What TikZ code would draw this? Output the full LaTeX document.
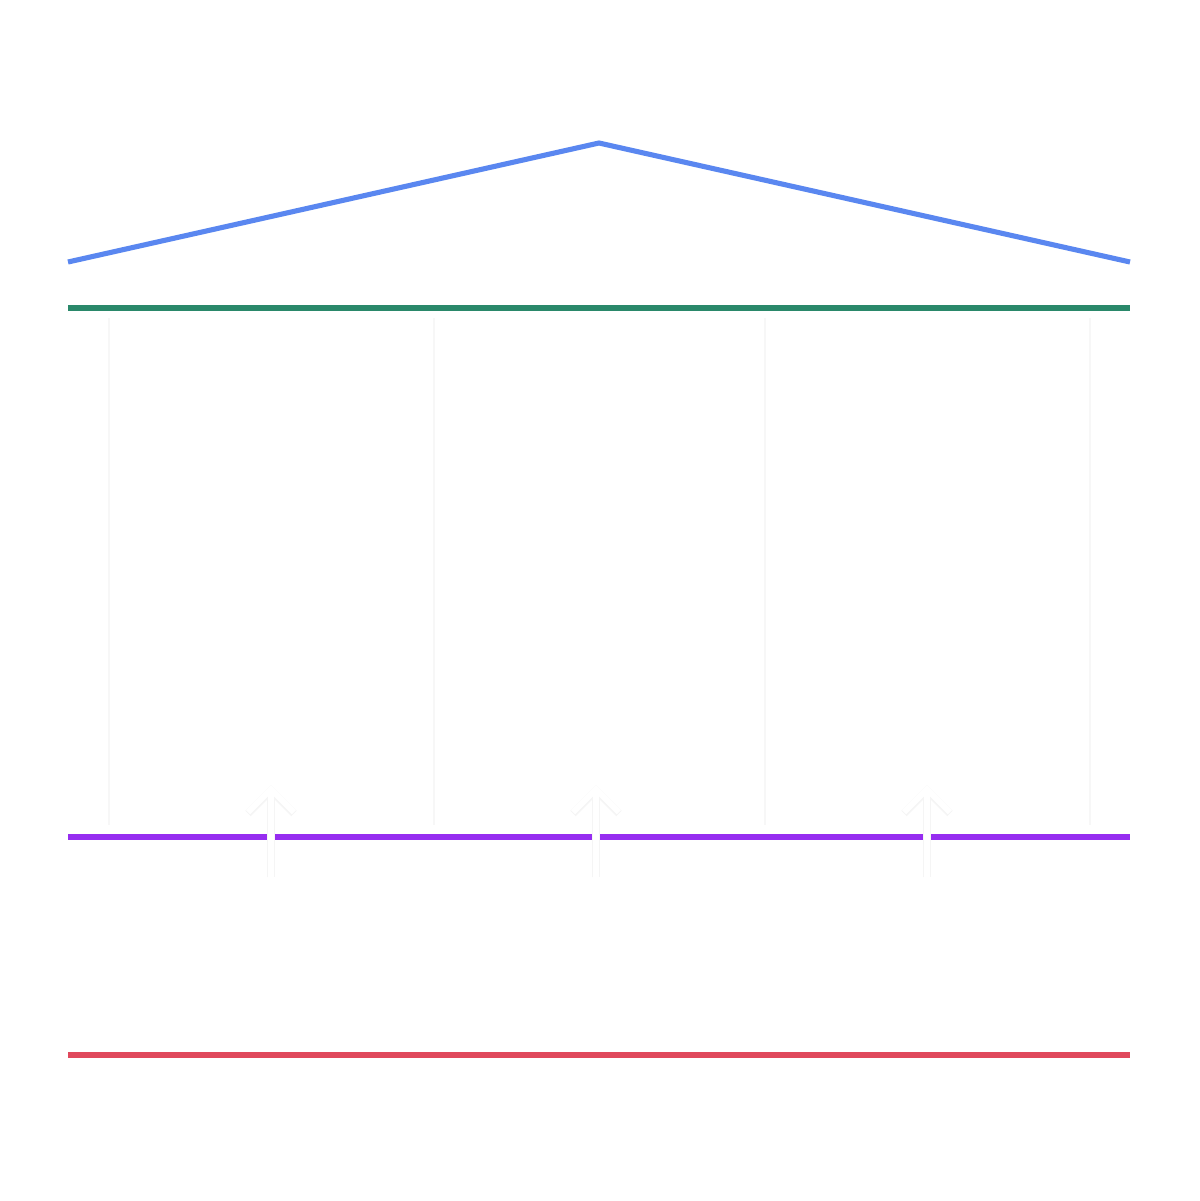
\documentclass[tikz,border=0pt]{standalone}
\usepackage{fontspec}
\setmainfont{Liberation Sans}
\usetikzlibrary{arrows.meta}

\definecolor{roofblue}{RGB}{90,135,240}
\definecolor{beamgreen}{RGB}{42,136,106}
\definecolor{basepurple}{RGB}{150,45,240}
\definecolor{floorred}{RGB}{224,72,92}
\definecolor{pillargray}{RGB}{247,247,247}

\tikzset{
  pillartext/.style={text=white, anchor=north west, inner sep=0pt, align=left,
    font=\fontsize{23.3pt}{29.6pt}\selectfont},
  thickline/.style={line width=2.9pt},
  pillarline/.style={draw=pillargray, line width=0.6pt},
  liftedge/.style={draw=black!4, line width=4.4pt, -{Straight Barb[length=0.46cm, width=0.92cm]}},
  liftarrow/.style={draw=white, line width=3.4pt, -{Straight Barb[length=0.46cm, width=0.92cm]}}
}

\begin{document}
\begin{tikzpicture}[x=0.02cm, y=-0.02cm]
		\fill[white] (0,0) rectangle (1200,1201);
		\useasboundingbox (0,0) rectangle (1200,1201);
		
		% Roof
		\draw[roofblue, thickline] (68,262) -- (599,143) -- (1130,262);
		\node[text=white, anchor=base, inner sep=0pt, font=\fontsize{23.3pt}{29.6pt}\selectfont\bfseries] (title) at (600,258) {The Four Pillars};
		
		% Beam
		\draw[beamgreen, thickline] (68,308) -- (1130,308);
		
		% Pillars
		\draw[pillarline] (109,318) -- (109,825);
		\draw[pillarline] (434,318) -- (434,825);
		\draw[pillarline] (765,318) -- (765,825);
		\draw[pillarline] (1090,318) -- (1090,825);
		
		\node[pillartext] (pillar1) at (140,505) {\textbf{Pillar 1}\\Replace\\Mom's UBE3A};
		\node[pillartext] (pillar2) at (463,505) {\textbf{Pillar 2}\\Turn on\\Dad's UBE3A};
		\node[pillartext] (pillar3) at (796,505) {\textbf{Pillar 3}\\Downstream\\Targets};
		
		% Base
		\draw[basepurple, thickline] (68,837) -- (1130,837);
		
		% Arrows
		\coordinate (from1) at (271,877);
		\coordinate (to1) at (271,785);
		\coordinate (from2) at (596,877);
		\coordinate (to2) at (596,785);
		\coordinate (from3) at (927,877);
		\coordinate (to3) at (927,785);
		
		\draw[liftedge] (from1) -- (to1);
		\draw[liftarrow] (from1) -- (to1);
		\draw[liftedge] (from2) -- (to2);
		\draw[liftarrow] (from2) -- (to2);
		\draw[liftedge] (from3) -- (to3);
		\draw[liftarrow] (from3) -- (to3);
		
		% Foundation
		\node[pillartext] (pillar4) at (140,903) {\textbf{Pillar 4}\\Accelerating and Preparing for Clinical Trials};
		
		\draw[floorred, thickline] (68,1055) -- (1130,1055);
		
	\end{tikzpicture}
\end{document}
